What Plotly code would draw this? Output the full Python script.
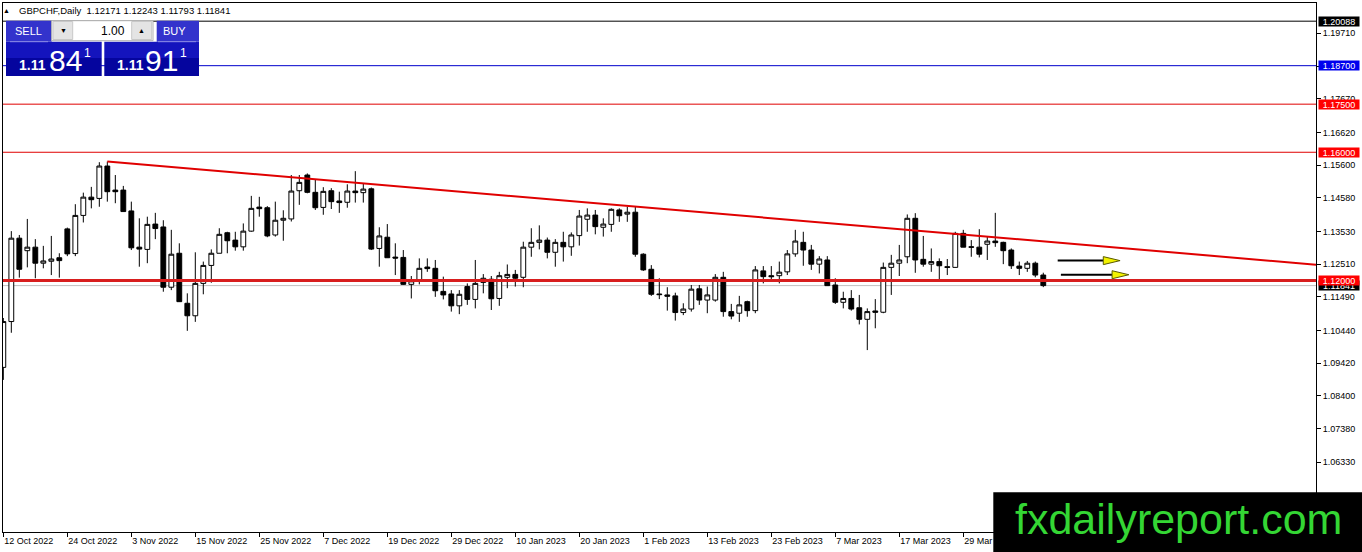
import plotly.graph_objects as go

# ---------------- data ----------------
bar_index = list(range(131))  # daily bars, 12 Oct 2022 ... 12 Apr 2023

opens = [1.0929, 1.1072, 1.1332, 1.1293, 1.1304, 1.1254, 1.1260, 1.1271, 1.1361, 1.1284,
         1.1403, 1.1460, 1.1456, 1.1557, 1.1482, 1.1482, 1.1417, 1.1304, 1.1297, 1.1376,
         1.1367, 1.1179, 1.1285, 1.1129, 1.1090, 1.1191, 1.1247, 1.1285, 1.1349, 1.1326,
         1.1305, 1.1354, 1.1429, 1.1427, 1.1342, 1.1388, 1.1392, 1.1480, 1.1529, 1.1475,
         1.1428, 1.1480, 1.1448, 1.1444, 1.1479, 1.1474, 1.1486, 1.1300, 1.1335, 1.1273,
         1.1272, 1.1188, 1.1202, 1.1242, 1.1238, 1.1166, 1.1158, 1.1121, 1.1181, 1.1141,
         1.1194, 1.1204, 1.1144, 1.1210, 1.1219, 1.1210, 1.1304, 1.1319, 1.1326, 1.1288,
         1.1319, 1.1305, 1.1340, 1.1391, 1.1404, 1.1366, 1.1375, 1.1420, 1.1407, 1.1413,
         1.1282, 1.1235, 1.1158, 1.1155, 1.1152, 1.1100, 1.1111, 1.1174, 1.1139, 1.1139,
         1.1210, 1.1103, 1.1098, 1.1134, 1.1106, 1.1230, 1.1215, 1.1215, 1.1227, 1.1283,
         1.1319, 1.1295, 1.1251, 1.1264, 1.1186, 1.1132, 1.1144, 1.1115, 1.1079, 1.1105,
         1.1101, 1.1241, 1.1254, 1.1274, 1.1394, 1.1266, 1.1251, 1.1259, 1.1243, 1.1241,
         1.1347, 1.1305, 1.1304, 1.1313, 1.1323, 1.1319, 1.1295, 1.1245, 1.1238, 1.1254,
         1.12171]

highs = [1.1083, 1.1354, 1.1342, 1.1392, 1.1329, 1.1308, 1.1339, 1.1285, 1.1365, 1.1438,
         1.1474, 1.1492, 1.1569, 1.1571, 1.1529, 1.1495, 1.1446, 1.1394, 1.1399, 1.1411,
         1.1388, 1.1358, 1.1316, 1.1160, 1.1288, 1.1259, 1.1297, 1.1363, 1.1352, 1.1352,
         1.1378, 1.1464, 1.1461, 1.1432, 1.1446, 1.1419, 1.1529, 1.1529, 1.1534, 1.1516,
         1.1491, 1.1488, 1.1477, 1.1500, 1.1541, 1.1503, 1.1490, 1.1366, 1.1376, 1.1316,
         1.1295, 1.1214, 1.1269, 1.1269, 1.1264, 1.1212, 1.1170, 1.1170, 1.1191, 1.1264,
         1.1220, 1.1214, 1.1227, 1.1250, 1.1233, 1.1321, 1.1363, 1.1372, 1.1334, 1.1329,
         1.1352, 1.1350, 1.1420, 1.1425, 1.1420, 1.1394, 1.1425, 1.1425, 1.1430, 1.1430,
         1.1285, 1.1248, 1.1207, 1.1179, 1.1162, 1.1129, 1.1186, 1.1186, 1.1181, 1.1220,
         1.1227, 1.1127, 1.1152, 1.1137, 1.1245, 1.1245, 1.1245, 1.1259, 1.1295, 1.1358,
         1.1352, 1.1311, 1.1276, 1.1276, 1.1207, 1.1165, 1.1170, 1.1155, 1.1113, 1.1142,
         1.1256, 1.1280, 1.1311, 1.1406, 1.1410, 1.1339, 1.1300, 1.1269, 1.1267, 1.1352,
         1.1358, 1.1326, 1.1360, 1.1337, 1.1411, 1.1321, 1.1300, 1.1259, 1.1261, 1.1259,
         1.12243]

lows = [1.0890, 1.1037, 1.1209, 1.1241, 1.1207, 1.1238, 1.1217, 1.1209, 1.1276, 1.1276,
        1.1381, 1.1425, 1.1430, 1.1446, 1.1441, 1.1415, 1.1295, 1.1243, 1.1254, 1.1329,
        1.1165, 1.1170, 1.1134, 1.1043, 1.1071, 1.1157, 1.1193, 1.1285, 1.1285, 1.1293,
        1.1293, 1.1352, 1.1399, 1.1335, 1.1337, 1.1324, 1.1384, 1.1436, 1.1472, 1.1420,
        1.1405, 1.1423, 1.1411, 1.1427, 1.1443, 1.1443, 1.1295, 1.1243, 1.1271, 1.1217,
        1.1186, 1.1144, 1.1188, 1.1227, 1.1149, 1.1141, 1.1103, 1.1095, 1.1124, 1.1113,
        1.1160, 1.1108, 1.1121, 1.1176, 1.1181, 1.1179, 1.1274, 1.1297, 1.1269, 1.1243,
        1.1259, 1.1277, 1.1309, 1.1352, 1.1344, 1.1337, 1.1352, 1.1383, 1.1383, 1.1274,
        1.1230, 1.1152, 1.1142, 1.1106, 1.1075, 1.1092, 1.1103, 1.1124, 1.1098, 1.1134,
        1.1087, 1.1079, 1.1071, 1.1087, 1.1098, 1.1191, 1.1202, 1.1191, 1.1217, 1.1274,
        1.1246, 1.1233, 1.1222, 1.1184, 1.1127, 1.1113, 1.1106, 1.1063, 1.0983, 1.1051,
        1.1098, 1.1155, 1.1214, 1.1254, 1.1224, 1.1243, 1.1227, 1.1202, 1.1217, 1.1240,
        1.1304, 1.1274, 1.1272, 1.1264, 1.1305, 1.1251, 1.1236, 1.1217, 1.1227, 1.1210,
        1.11793]

closes = [1.1072, 1.1332, 1.1235, 1.1304, 1.1254, 1.1261, 1.1267, 1.1262, 1.1283, 1.1403,
          1.1460, 1.1452, 1.1557, 1.1477, 1.1477, 1.1415, 1.1302, 1.1298, 1.1375, 1.1362,
          1.1179, 1.1282, 1.1134, 1.1090, 1.1191, 1.1247, 1.1285, 1.1344, 1.1324, 1.1305,
          1.1354, 1.1425, 1.1424, 1.1339, 1.1388, 1.1394, 1.1479, 1.1506, 1.1475, 1.1427,
          1.1478, 1.1446, 1.1443, 1.1479, 1.1474, 1.1485, 1.1298, 1.1339, 1.1271, 1.1270,
          1.1188, 1.1199, 1.1238, 1.1237, 1.1168, 1.1155, 1.1121, 1.1157, 1.1141, 1.1191,
          1.1207, 1.1143, 1.1215, 1.1219, 1.1207, 1.1304, 1.1319, 1.1326, 1.1288, 1.1319,
          1.1305, 1.1342, 1.1401, 1.1404, 1.1368, 1.1376, 1.1422, 1.1402, 1.1413, 1.1282,
          1.1233, 1.1157, 1.1156, 1.1151, 1.1100, 1.1111, 1.1173, 1.1139, 1.1155, 1.1210,
          1.1103, 1.1089, 1.1124, 1.1106, 1.1233, 1.1212, 1.1212, 1.1226, 1.1283, 1.1323,
          1.1295, 1.1251, 1.1267, 1.1184, 1.1132, 1.1144, 1.1111, 1.1079, 1.1103, 1.1101,
          1.1241, 1.1254, 1.1264, 1.1394, 1.1264, 1.1251, 1.1259, 1.1246, 1.1241, 1.1347,
          1.1304, 1.1304, 1.1282, 1.1323, 1.1318, 1.1293, 1.1246, 1.1238, 1.1254, 1.1217,
          1.11841]

date_tick_index = [0, 8, 16, 24, 32, 40, 48, 56, 64, 72, 80, 88, 96, 104, 112, 120]
date_tick_labels = ["12 Oct 2022", "24 Oct 2022", "3 Nov 2022", "15 Nov 2022", "25 Nov 2022",
                    "7 Dec 2022", "19 Dec 2022", "29 Dec 2022", "10 Jan 2023", "20 Jan 2023",
                    "1 Feb 2023", "13 Feb 2023", "23 Feb 2023", "7 Mar 2023", "17 Mar 2023",
                    "29 Mar 2023"]

price_ticks = [1.19710, 1.18690, 1.17670, 1.16620, 1.15600, 1.14580, 1.13530,
               1.12510, 1.11490, 1.10440, 1.09420, 1.08400, 1.07380, 1.06330]

level_prices = [1.20088, 1.18700, 1.17500, 1.16000, 1.12000]
level_colors = ["#000000", "#0000cc", "#e00000", "#e00000", "#d81e1e"]
level_widths = [1, 1, 1, 1, 3]
level_label_bg = ["#000000", "#0000ee", "#ff0000", "#ff0000", "#ff0000"]

bid_price = 1.11841

trend_idx = [13, 130]
trend_price = [1.1571, 1.1322]

arrow_start_idx = [131.8, 132.2]
arrow_end_idx = [137.5, 138.6]
arrow_price = [1.1262, 1.1218]

header_text = "GBPCHF,Daily  1.12171 1.12243 1.11793 1.11841"

# ---------------- layout geometry ----------------
W, H = 1362, 552
ML, MR, MT, MB = 3, 46, 3, 20
PW = W - ML - MR
PH = H - MT - MB
X_RANGE = [-0.04, 164.09]
Y_RANGE = [1.04156, 1.20655]
FONT = "Liberation Sans"


def fx(px):
    return (px - ML) / PW


def fy(py):
    return (H - MB - py) / PH


fig = go.Figure()
fig.add_trace(go.Candlestick(
    x=bar_index, open=opens, high=highs, low=lows, close=closes,
    increasing=dict(line=dict(color="black", width=1), fillcolor="white"),
    decreasing=dict(line=dict(color="black", width=1), fillcolor="black"),
    whiskerwidth=0, showlegend=False, hoverinfo="skip"))

shapes = []
annotations = []

# horizontal levels
for p, c, w in zip(level_prices, level_colors, level_widths):
    shapes.append(dict(type="line", xref="paper", yref="y", x0=0, x1=1, y0=p, y1=p,
                       line=dict(color=c, width=w), layer="above"))
shapes.append(dict(type="line", xref="paper", yref="y", x0=0, x1=1, y0=bid_price, y1=bid_price,
                   line=dict(color="#c0c0c0", width=1), layer="below"))

# trend line extended to the right edge
slope = (trend_price[1] - trend_price[0]) / (trend_idx[1] - trend_idx[0])
x_end = X_RANGE[1]
shapes.append(dict(type="line", xref="x", yref="y", x0=trend_idx[0], y0=trend_price[0],
                   x1=x_end, y1=trend_price[0] + slope * (x_end - trend_idx[0]),
                   line=dict(color="#e00000", width=2), layer="above"))

# arrows
head_len = 2.1
head_half = 0.00125
for xs, xe, p in zip(arrow_start_idx, arrow_end_idx, arrow_price):
    shapes.append(dict(type="line", xref="x", yref="y", x0=xs, x1=xe, y0=p, y1=p,
                       line=dict(color="black", width=2), layer="above"))
    shapes.append(dict(type="path", xref="x", yref="y",
                       path=f"M {xe},{p + head_half} L {xe + head_len},{p} L {xe},{p - head_half} Z",
                       fillcolor="#f2f200", line=dict(color="#5a5a00", width=1), layer="above"))

# price labels on the axis
label_list = [(bid_price, "#000000")] + list(zip(level_prices, level_label_bg))
label_list = [label_list[1], label_list[2], label_list[3], label_list[4], label_list[0], label_list[5]]
for p, bg in label_list:
    annotations.append(dict(x=1, xref="paper", y=p, yref="y", xanchor="left", yanchor="middle",
                            xshift=2, text=f"{p:.5f}", showarrow=False, bgcolor=bg,
                            font=dict(family=FONT, size=9, color="white"),
                            width=40, height=9, borderpad=0, align="center"))

# watermark
shapes.append(dict(type="rect", xref="paper", yref="paper", x0=fx(993.3), x1=fx(W + 5),
                   y0=fy(H + 10), y1=fy(492.3), fillcolor="black", line=dict(width=0),
                   layer="above"))
annotations.append(dict(x=fx(1178), y=fy(519), xref="paper", yref="paper", text="fxdailyreport.com",
                        showarrow=False, xanchor="center", yanchor="middle",
                        font=dict(family=FONT, size=43, color="#34d634")))

# header
annotations.append(dict(x=fx(6.7), y=fy(10), xref="paper", yref="paper", text="▲", showarrow=False,
                        xanchor="center", yanchor="middle", font=dict(family=FONT, size=7, color="black")))
annotations.append(dict(x=fx(17), y=fy(10), xref="paper", yref="paper", text=header_text,
                        showarrow=False, xanchor="left", yanchor="middle",
                        font=dict(family=FONT, size=9.5, color="black")))


# one-click trading panel
def rect(x0, y0, x1, y1, fill, line=None):
    shapes.append(dict(type="rect", xref="paper", yref="paper", x0=fx(x0), x1=fx(x1),
                       y0=fy(y1), y1=fy(y0), fillcolor=fill,
                       line=dict(width=1 if line else 0, color=line or fill), layer="above"))


def txt(x, y, s, size, color="white", anchor="center", bold=False):
    annotations.append(dict(x=fx(x), y=fy(y), xref="paper", yref="paper",
                            text=f"<b>{s}</b>" if bold else s, showarrow=False,
                            xanchor=anchor, yanchor="middle",
                            font=dict(family=FONT, size=size, color=color)))


for bx0, bx1 in [(6, 101.7), (104.3, 199)]:
    rect(bx0, 41.7, bx1, 58, "#1414bd")
    rect(bx0, 58, bx1, 76, "#05059e")
rect(6, 20.7, 51.7, 41.7, "#3333cc")
rect(156.7, 20.7, 199, 41.7, "#3333cc")
shapes.append(dict(type="line", xref="paper", yref="paper", x0=fx(10), x1=fx(48), y0=fy(41.7), y1=fy(41.7),
                   line=dict(color="#8a8ae6", width=1), layer="above"))
shapes.append(dict(type="line", xref="paper", yref="paper", x0=fx(158), x1=fx(196), y0=fy(41.7), y1=fy(41.7),
                   line=dict(color="#8a8ae6", width=1), layer="above"))
rect(51.7, 20.7, 153, 40.7, "white", "#b0b0b0")
rect(53, 21.5, 72.7, 39.5, "#e4e4e4", "#c8c8c8")
rect(131.7, 21.5, 151.7, 39.5, "#e4e4e4", "#c8c8c8")
txt(63, 30.5, "▼", 7, "black")
txt(141.7, 30, "▲", 7, "black")
txt(127, 30.5, "1.00", 12, "black", anchor="right")
txt(28, 31, "SELL", 11)
txt(174, 31, "BUY", 11)
txt(32.3, 65, "1.11", 14, bold=True)
txt(65.5, 60, "84", 30)
txt(87.5, 52.5, "1", 12)
txt(130, 65, "1.11", 14, bold=True)
txt(161.5, 60, "91", 30)
txt(183.5, 52.5, "1", 12)

fig.update_layout(
    width=W, height=H, autosize=False,
    margin=dict(l=ML, r=MR, t=MT, b=MB, pad=0),
    paper_bgcolor="white", plot_bgcolor="white",
    showlegend=False, boxgap=0.4, boxgroupgap=0,
    shapes=shapes, annotations=annotations,
    xaxis=dict(range=X_RANGE, rangeslider=dict(visible=False), showgrid=False, zeroline=False,
               tickmode="array", tickvals=date_tick_index, ticktext=date_tick_labels,
               ticks="outside", ticklen=4, tickcolor="black", ticklabelposition="outside right",
               tickfont=dict(family=FONT, size=9, color="black"),
               showline=True, linecolor="black", linewidth=1, mirror=True, fixedrange=True),
    yaxis=dict(range=Y_RANGE, side="right", showgrid=False, zeroline=False,
               tickmode="array", tickvals=price_ticks, ticktext=[f"{v:.5f}" for v in price_ticks],
               ticks="outside", ticklen=4, tickcolor="black",
               tickfont=dict(family=FONT, size=9, color="black"),
               showline=True, linecolor="black", linewidth=1, mirror=True, fixedrange=True),
)

fig.write_html("out.html", config={"displayModeBar": False, "staticPlot": True},
               post_script="document.body.style.margin='0';document.body.style.overflow='hidden';")
